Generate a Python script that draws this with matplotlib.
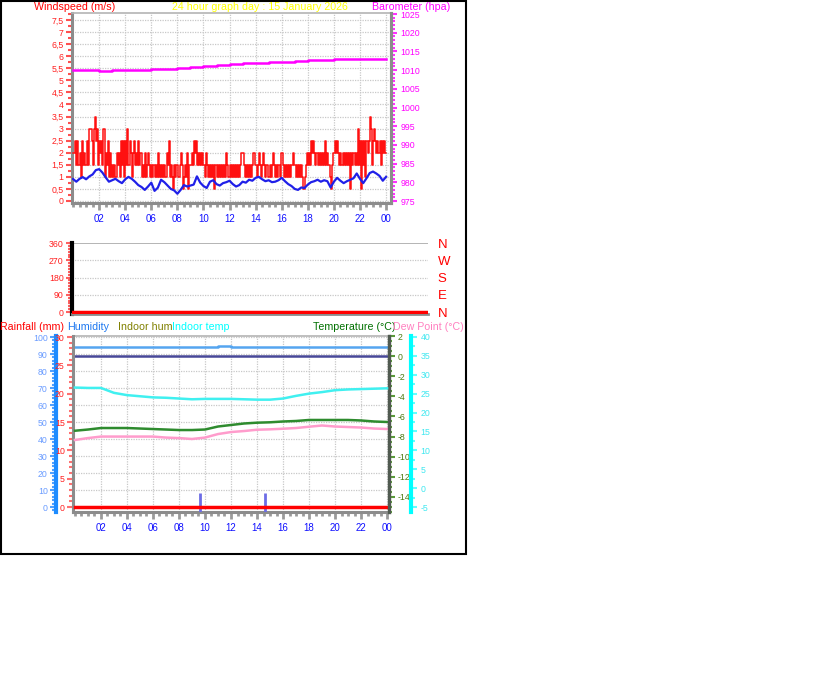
import matplotlib
matplotlib.use("Agg")
import matplotlib.pyplot as plt
import numpy as np
from matplotlib.ticker import MultipleLocator, FuncFormatter
from matplotlib.patches import Rectangle

plt.rcParams["font.family"] = ["Liberation Sans", "DejaVu Sans"]
plt.rcParams["axes.unicode_minus"] = False

W, H = 816, 683

graph_date = "15 January 2026"
hour_ticks = [2, 4, 6, 8, 10, 12, 14, 16, 18, 20, 22, 24]
hour_labels = ["02", "04", "06", "08", "10", "12", "14", "16", "18", "20", "22", "00"]

# wind gust, 5-minute samples, written in half m/s steps (one char per sample)
gust_half = (
    "445353425343" "353665367563" "545362435242" "323243425352"
    "536354245343" "534232423432" "323232423232" "324352321323"
    "323431232413" "343545343434" "324323232313" "232323232432"
    "323232323234" "432323232343" "323432343232" "232343232324"
    "432323232343" "323232321234" "343545434343" "434353432134"
    "454543434343" "434143434363" "515352545763" "565454535454"
    "4"
)

# average wind speed (m/s), 15-minute samples
wind_avg = [
    0.91, 0.80, 0.92, 0.99, 0.90, 1.02, 1.10, 1.28, 1.32, 1.18, 0.98, 0.80,
    0.86, 0.92, 0.82, 0.74, 0.90, 1.00, 0.92, 0.80, 0.66, 0.58, 0.46, 0.60,
    0.76, 0.42, 0.55, 0.88, 0.78, 0.64, 0.50, 0.44, 0.30, 0.46, 0.66, 0.60,
    0.64, 0.68, 1.02, 0.76, 0.62, 0.54, 0.80, 0.86, 0.70, 0.64, 0.74, 0.78,
    0.84, 0.70, 0.60, 0.66, 0.80, 0.76, 0.88, 0.84, 0.96, 1.00, 0.90, 0.82,
    0.86, 0.78, 0.80, 0.86, 0.96, 0.82, 0.70, 0.62, 0.50, 0.46, 0.56, 0.54,
    0.68, 0.78, 0.82, 0.88, 0.80, 0.86, 0.82, 0.56, 0.80, 0.96, 0.84, 0.74,
    0.82, 0.88, 0.94, 1.14, 0.92, 0.74, 0.94, 1.16, 1.22, 1.14, 1.04, 0.84,
    1.00,
]

# hourly values, 00:00 .. 24:00
barometer = [1010.0, 1010.0, 1009.8, 1010.0, 1010.1, 1010.1, 1010.2, 1010.4,
             1010.6, 1010.9, 1011.2, 1011.5, 1011.7, 1011.9, 1012.0, 1012.2,
             1012.3, 1012.5, 1012.6, 1012.8, 1012.9, 1013.0, 1013.0, 1013.0,
             1012.9]
humidity = [93.9, 93.9, 93.9, 93.9, 93.9, 93.9, 93.9, 93.9, 93.9, 93.9,
            94.0, 94.6, 94.4, 94.2, 94.2, 94.2, 94.2, 94.2, 94.2, 94.2,
            94.2, 94.2, 94.2, 94.2, 94.2]
indoor_hum = [89.0] * 25
indoor_temp = [26.6, 26.5, 26.5, 25.2, 24.6, 24.3, 24.0, 23.9, 23.7, 23.5,
               23.6, 23.6, 23.6, 23.5, 23.4, 23.4, 23.7, 24.4, 25.0, 25.4,
               25.9, 26.1, 26.2, 26.3, 26.4]
temperature = [-7.42, -7.30, -7.15, -7.15, -7.15, -7.20, -7.25, -7.30, -7.35,
               -7.35, -7.30, -7.00, -6.85, -6.70, -6.62, -6.58, -6.50, -6.45,
               -6.35, -6.35, -6.35, -6.35, -6.40, -6.50, -6.55]
dew_point = [-8.34, -8.15, -8.00, -8.00, -8.00, -8.00, -8.00, -8.10, -8.15,
             -8.24, -8.10, -7.75, -7.55, -7.45, -7.32, -7.28, -7.22, -7.15,
             -7.02, -6.90, -7.00, -7.05, -7.10, -7.20, -7.25]
rain_hours = [0, 24]
rainfall = [0.0, 0.0]
rain_mark_hours = [9.6, 14.6]
rain_mark_top = [2.5, 2.5]
dir_hours = [0, 24]
wind_dir = [0, 0]
dir_ticks = [0, 90, 180, 270, 360]
dir_labels = ["N", "E", "S", "W", "N"]

gust = [int(c) * 0.5 for c in gust_half]
gust_t = np.arange(len(gust)) / 12.0
wind_t = np.arange(len(wind_avg)) / 4.0
hour_t = np.arange(25)

fig = plt.figure(figsize=(W / 100, H / 100), dpi=100)
fig.patch.set_facecolor("white")


def add_ax(x0, y0, x1, y1):
    return fig.add_axes([x0 / W, 1 - y1 / H, (x1 - x0) / W, (y1 - y0) / H])


def px_pt(p):
    return p * 0.72


GRID = dict(color="#c8c8c8", linestyle=(0, (1, 1)), linewidth=0.9)
FRAME = "#8c8c8c"
TICK_FS = 6.3


def frame(ax):
    for s in ("left", "bottom", "right"):
        ax.spines[s].set_color(FRAME)
        ax.spines[s].set_linewidth(2.2)
    ax.spines["top"].set_color("#b4b4b4")
    ax.spines["top"].set_linewidth(1.2)


def hour_axis(ax):
    ax.xaxis.set_minor_locator(MultipleLocator(0.5))
    ax.set_xticks(hour_ticks)
    ax.set_xticklabels(hour_labels)
    ax.tick_params(axis="x", which="both", colors="#9a9a9a", labelcolor="#1010ff",
                   labelsize=7, direction="out", width=2)
    ax.tick_params(axis="x", which="major", length=5, pad=3)
    ax.tick_params(axis="x", which="minor", length=3)


def y_ticks(ax, major, minor, tick_c, label_c, pad=2, minor_len=3):
    ax.yaxis.set_major_locator(MultipleLocator(major))
    ax.yaxis.set_minor_locator(MultipleLocator(minor))
    ax.tick_params(axis="y", which="both", colors=tick_c, labelcolor=label_c,
                   labelsize=TICK_FS, direction="out", width=1.5, pad=pad)
    ax.tick_params(axis="y", which="major", length=4)
    ax.tick_params(axis="y", which="minor", length=minor_len)


comma = FuncFormatter(lambda v, p: f"{v:g}".replace(".", ","))

# ---------------- top: wind + barometer ----------------
ax_w = add_ax(72, 13, 391, 203)
frame(ax_w)
ax_w.set_xlim(-0.08, 24.38)
ax_w.set_ylim(-0.083, 7.79)
ax_w.grid(True, which="major", **GRID)
y_ticks(ax_w, 0.5, 0.25, "#ff5050", "#ff2020")
ax_w.yaxis.set_major_formatter(comma)
hour_axis(ax_w)
ax_w.plot(gust_t, gust, color="#ff1010", lw=1.1, drawstyle="steps-post", zorder=3)
ax_w.plot(wind_t, wind_avg, color="#2020e8", lw=1.6, zorder=4)

ax_p = ax_w.twinx()
ax_p.set_ylim(974.47, 1025.27)
for s in ("left", "bottom", "top"):
    ax_p.spines[s].set_visible(False)
ax_p.spines["right"].set_color(FRAME)
ax_p.spines["right"].set_linewidth(2.2)
y_ticks(ax_p, 5, 1, "#ff30ff", "#ff00ff", pad=3)
ax_p.plot(hour_t, barometer, color="#ff00ff", lw=1.8, drawstyle="steps-post")

# ---------------- middle: wind direction ----------------
ax_m = add_ax(72, 243, 428, 314)
ax_m.set_xlim(0, 24)
ax_m.set_ylim(-10.4, 360)
ax_m.spines["right"].set_visible(False)
ax_m.spines["top"].set_visible(False)
ax_m.spines["left"].set_color("black")
ax_m.spines["left"].set_linewidth(3)
ax_m.spines["bottom"].set_color(FRAME)
ax_m.spines["bottom"].set_linewidth(2)
ax_m.set_xticks([])
y_ticks(ax_m, 90, 15, "#ff6060", "#ff2020")
ax_m.set_yticks(dir_ticks)
for v in dir_ticks[1:-1]:
    ax_m.axhline(v, **GRID)
ax_m.axhline(dir_ticks[-1], color="#a8a8a8", lw=1.2)
ax_m.plot(dir_hours, wind_dir, color="#ff0000", lw=2.5, zorder=3)
ax_m2 = ax_m.twinx()
ax_m2.set_ylim(ax_m.get_ylim())
for s in ax_m2.spines.values():
    s.set_visible(False)
ax_m2.set_yticks(dir_ticks)
ax_m2.set_yticklabels(dir_labels)
ax_m2.tick_params(axis="y", length=0, labelcolor="#ff0000", labelsize=9.5, pad=7)

# ---------------- bottom: humidity / rain / temperatures ----------------
ax_b = add_ax(73, 336, 389, 512)
frame(ax_b)
ax_b.set_xlim(-0.15, 24.15)
ax_b.set_ylim(-2.94, 100.6)
ax_b.grid(True, which="major", **GRID)
ax_b.spines["left"].set_position(("outward", px_pt(17)))
ax_b.spines["left"].set_color("#1e8cff")
ax_b.spines["left"].set_linewidth(3)
y_ticks(ax_b, 10, 2, "#50a0ff", "#6a9cff")
hour_axis(ax_b)
ax_b.plot(hour_t, humidity, color="#55a5f0", lw=1.8, drawstyle="steps-post")
ax_b.plot(hour_t, indoor_hum, color="#484898", lw=1.8)

ax_r = ax_b.twinx()
ax_r.set_ylim(-0.88, 30.18)
for s in ("right", "bottom", "top"):
    ax_r.spines[s].set_visible(False)
ax_r.spines["left"].set_visible(True)
ax_r.spines["left"].set_color(FRAME)
ax_r.spines["left"].set_linewidth(2.2)
ax_r.yaxis.set_ticks_position("left")
y_ticks(ax_r, 5, 1, "#ff7070", "#ff2020")
ax_r.vlines(rain_mark_hours, -0.88, rain_mark_top, color="#6c6ce6", lw=2)
ax_r.plot(rain_hours, rainfall, color="#ff0000", lw=2.5, zorder=3)

ax_t = ax_b.twinx()
ax_t.set_ylim(-15.5, 2.0)
for s in ("left", "bottom", "top"):
    ax_t.spines[s].set_visible(False)
ax_t.spines["right"].set_color("#505a50")
ax_t.spines["right"].set_linewidth(2.4)
y_ticks(ax_t, 2, 0.5, "#5a9a3a", "#4a7a10", pad=2, minor_len=2.5)
ax_t.plot(hour_t, temperature, color="#2e8b2e", lw=1.8)
ax_t.plot(hour_t, dew_point, color="#ff9ccc", lw=1.8)

ax_d = ax_b.twinx()
ax_d.set_ylim(-6.32, 40.24)
for s in ("left", "bottom", "top"):
    ax_d.spines[s].set_visible(False)
ax_d.spines["right"].set_position(("outward", px_pt(22)))
ax_d.spines["right"].set_color("#00ffff")
ax_d.spines["right"].set_linewidth(3)
y_ticks(ax_d, 5, 2.5, "#60ffff", "#40e8f0", pad=3)
ax_d.plot(hour_t, indoor_temp, color="#40f0f0", lw=1.8)


# ---------------- header texts ----------------
def head(x, y, s, c):
    fig.text(x / W, 1 - y / H, s, color=c, fontsize=7.7, ha="left", va="center")


head(34, 7, "Windspeed (m/s)", "#ff0000")
head(172, 7, "24 hour graph day : " + graph_date, "#ffff00")
head(372, 7, "Barometer (hpa)", "#ff00ff")
head(0, 327, "Rainfall (mm)", "#ff0000")
head(67, 327, "Humidity", "#1e78f0")
head(118, 327, "Indoor hum", "#808000")
head(172, 327, "Indoor temp", "#00ffff")
head(313, 327, "Temperature (\u00b0C)", "#007000")
head(393, 327, "Dew Point (\u00b0C)", "#ff80c0")

fig.add_artist(Rectangle((0.5 / W, 1 - 554 / H), 465 / W, 553.5 / H,
                         transform=fig.transFigure, fill=False,
                         edgecolor="black", lw=1.5))

fig.savefig("out.png", dpi=100)
